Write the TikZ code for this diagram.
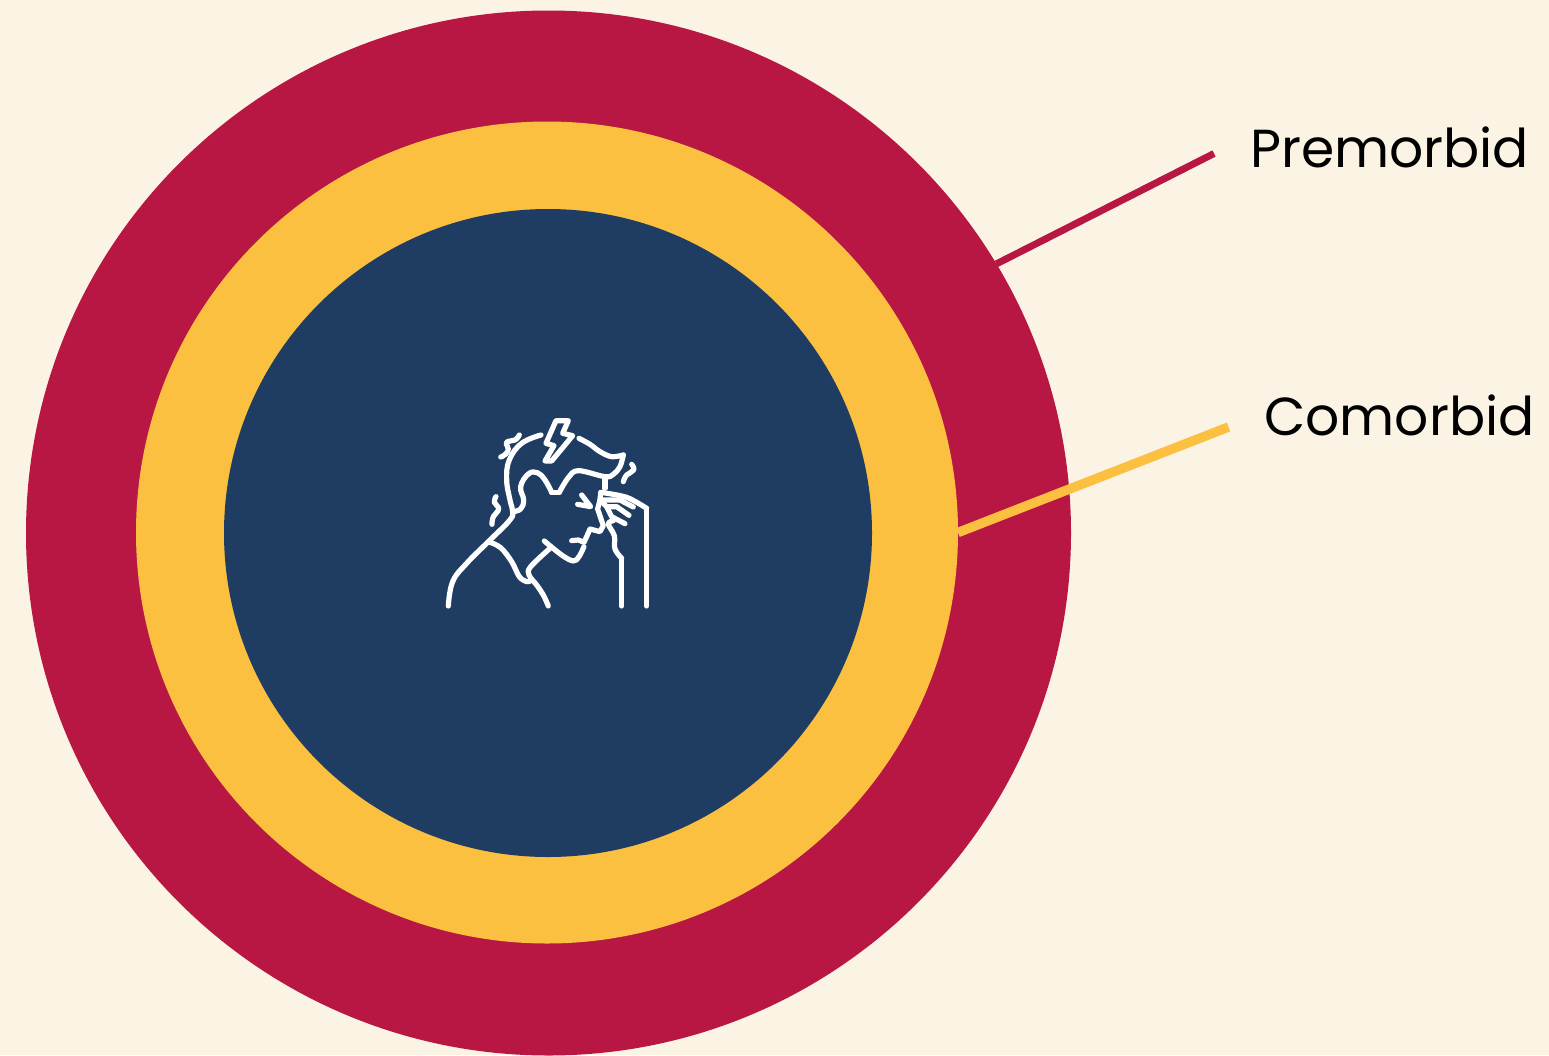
\documentclass[tikz,border=0pt]{standalone}
\usepackage{fontspec}
\setmainfont{Poppins}
\definecolor{bgc}{HTML}{FBF3E4}
\definecolor{redc}{HTML}{B81744}
\definecolor{yelc}{HTML}{FBC040}
\definecolor{bluc}{HTML}{1F3D63}
\tikzset{
  ring/.style={circle,inner sep=0pt,outer sep=0pt,minimum size=#1},
  lab/.style={inner sep=0pt,font=\fontsize{53.5}{60}\selectfont,text=black},
  ico/.style={draw=white,line width=5.2pt,line cap=round,line join=round}
}
\begin{document}
\begin{tikzpicture}[x=1pt,y=-1pt]
\useasboundingbox (0,0) rectangle (1549,1055);
\fill[bgc] (0,0) rectangle (1549,1055);
\node[ring=1045pt,fill=redc] (outer) at (548.5,533) {};
\node[ring=822pt,fill=yelc] (mid) at (547,532.5) {};
\node[ring=648pt,fill=bluc] (inner) at (548,533) {};
\coordinate (premEnd) at (1214,153.5);
\coordinate (comEnd) at (1228.5,427);
\draw[redc,line width=7pt] (outer.31.1) -- (premEnd);
\draw[yelc,line width=9.5pt] (mid.0) -- (comEnd);
\node[lab,anchor=base west] (prem) at (1250,167) {Premorbid};
\node[lab,anchor=base west] (com) at (1264,435) {Comorbid};
\begin{scope}[shift={(430,405)},x=0.3333pt,y=-0.3333pt]
 % bolt
 \draw[ico] (378,47) -- (415,47) -- (398,85) -- (428,92) -- (365,168) -- (345,168) -- (372,122) -- (348,115) -- cycle;
 % back of head and shoulder
 \draw[ico] plot[smooth,tension=0.7] coordinates {(333,90) (275,115) (238,165) (230,225) (240,285) (248,320) (238,347) (175,410) (110,475) (68,530) (55,603)};
 % hair line and brow
 \draw[ico] plot[smooth,tension=0.7] coordinates {(248,320) (272,312) (281,285) (272,245) (295,207) (322,203) (345,225) (365,262)};
 \draw[ico] (365,262) -- (388,262);
 \draw[ico] plot[smooth,tension=0.6] coordinates {(388,262) (415,218) (445,197) (525,215) (550,208) (570,185) (580,150)};
 \draw[ico] plot[smooth,tension=0.6] coordinates {(580,150) (545,155) (510,140) (480,118) (447,100)};
 \draw[ico] (525,215) -- (525,250);
 % collar
 \draw[ico] plot[smooth,tension=0.6] coordinates {(175,410) (212,428) (245,470) (268,515) (290,530) (300,528)};
 % neck
 \draw[ico] plot[smooth,tension=0.6] coordinates {(360,430) (302,485) (297,510) (320,540) (340,570) (355,603)};
 % jaw and face
 \draw[ico] plot[smooth,tension=0.6] coordinates {(343,408) (395,450) (430,468) (447,455) (462,425)};
 \draw[ico] (425,407) -- (445,405) -- (462,412) -- (470,395) -- (480,372) -- (510,380) -- (520,362) -- (503,312) -- (510,285) -- (512,264);
 % hand and stick
 \draw[ico] plot[smooth,tension=0.5] coordinates {(512,262) (590,277) (650,310)};
 \draw[ico] (650,310) -- (650,603);
 \draw[ico] (520,285) -- (570,285) -- (610,306);
 \draw[ico] (530,305) -- (560,305) -- (597,331);
 \draw[ico] (510,285) -- (530,305) -- (545,335) -- (585,356);
 \draw[ico] plot[smooth,tension=0.6] coordinates {(550,347) (535,357) (553,392) (555,432) (575,460)};
 \draw[ico] (575,460) -- (575,603);
 % eye
 \draw[ico] (455,270) -- (482,305) -- (443,298);
 % squiggles
 \draw[ico] plot[smooth,tension=0.8] coordinates {(268,90) (255,105) (230,112) (235,132) (226,148) (212,156)};
 \draw[ico] plot[smooth,tension=0.8] coordinates {(198,275) (193,292) (206,312) (190,335) (186,358)};
 \draw[ico] plot[smooth,tension=0.8] coordinates {(605,178) (611,195) (590,210) (580,230)};
\end{scope}
\end{tikzpicture}
\end{document}
